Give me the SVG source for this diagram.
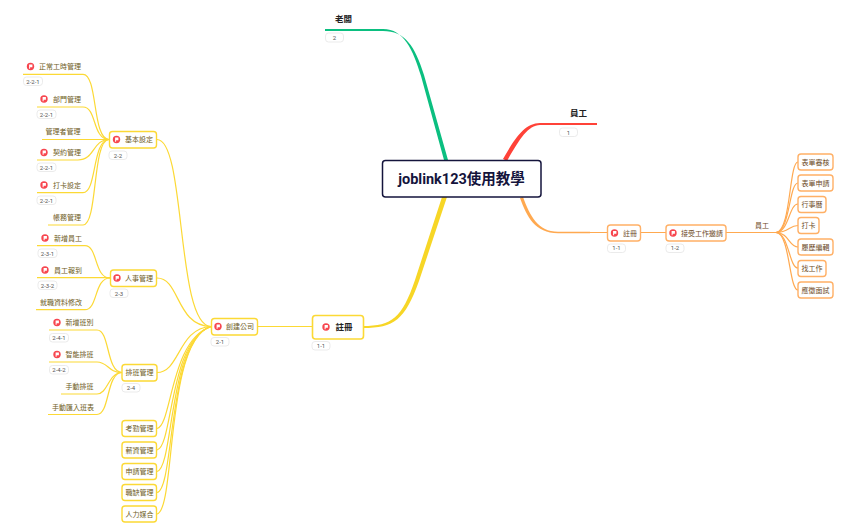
<svg xmlns="http://www.w3.org/2000/svg" width="856" height="530" viewBox="0 0 856 530">
<style>
text{font-family:Roboto,"Noto Sans CJK TC","Noto Sans CJK SC",sans-serif}
.y{fill:none;stroke:#fcd935;stroke-width:1.200}
.o{fill:none;stroke:#ffa950;stroke-width:1.200}
.by{fill:#fff;stroke:#fcd935;stroke-width:1.400}
.bo{fill:#fff;stroke:#ffb066;stroke-width:1.400}
.ty{font-size:7px;fill:#6e5c1c}
.to{font-size:7px;fill:#6d4a26}
.bd{fill:#fff;stroke:#e6e6e6;stroke-width:.8}
.bt{font-size:6px;fill:#555;text-anchor:middle}
.h{font-size:8.500px;font-weight:700;fill:#222}
</style>
<defs>
<g id="flag"><circle r="3.700" fill="#f7464f"/><path d="M-1.400-2H1.900V.7H-.4V2.300H-1.400Z" fill="#fff"/></g>
</defs>
<g id="connectors">
<path d="M325 29H383C404 29 413 50 421 76L444 160H448L424 75C415 46 405 31 383 31H325Z" fill="#0bbf80"/>
<path d="M597 123H540C525 123 515 138 503 159L507 161C519 140 528 125 540 125H597Z" fill="#ff4238"/>
<path d="M520 197C527 216 535 231.800 555 231.800H587V233.200H555C532 233.200 524 217 517 198Z" fill="#ffa950" transform="translate(3 0)"/>
<path d="M363 326C392 326 402 318 415 280L442 197H447L419 281C405 320 394 328 363 328Z" fill="#f7d626"/>
<path class="o" d="M587 232.500H607M640 232.500H666M726 232.500H776"/>
<path class="o" d="M776 232.500C791 232 789 162 798 162"/>
<path class="o" d="M776 232.500C790 232 789 183 798 183"/>
<path class="o" d="M776 232.500C789 232 789 204 798 204"/>
<path class="o" d="M776 232.500C789 232.500 789 225.500 798 225.500"/>
<path class="o" d="M776 232.500C789 233 789 247 798 247"/>
<path class="o" d="M776 232.500C789 233 789 268 798 268"/>
<path class="o" d="M776 232.500C790 233 789 290 798 290"/>
<path class="y" d="M257 326.500H312"/>
<path class="y" d="M157 139.500C186 139.500 176 326 211 326.500"/>
<path class="y" d="M157 278C180 278 176 326 211 326.500"/>
<path class="y" d="M157 372.500C180 372.500 178 328 211 326.500"/>
<path class="y" d="M157 428.500C172 426 170 340 211 326.500"/>
<path class="y" d="M157 450C173 447 169 340 211 326.500"/>
<path class="y" d="M157 471.500C174 468 168 340 211 326.500"/>
<path class="y" d="M157 492.500C175 489 167 340 211 326.500"/>
<path class="y" d="M157 514C176 510 165 340 211 326.500"/>
<path class="y" d="M23 74.300H83C98 74.300 92 139 109 139.500"/>
<path class="y" d="M37 107H83C97 107 92 139 109 139.500"/>
<path class="y" d="M42 139.500H109"/>
<path class="y" d="M37 160H78C95 160 92 140 109 139.500"/>
<path class="y" d="M37 192.700H83C97 192.700 92 140 109 139.500"/>
<path class="y" d="M48 225H83C98 225 92 140 109 139.500"/>
<path class="y" d="M37 245.700H85C98 245.700 94 278 110 278"/>
<path class="y" d="M37 277.700H110"/>
<path class="y" d="M36 309.700H85C98 309.700 94 278 110 278"/>
<path class="y" d="M49 330H97C110 330 106 372 122 372.500"/>
<path class="y" d="M49 362H97C108 362 108 372.500 122 372.500"/>
<path class="y" d="M61 394H97C108 394 108 373 122 372.500"/>
<path class="y" d="M48 414.500H97C110 414.500 106 373 122 372.500"/>
</g>
<g id="root"><rect x="382.500" y="160.500" width="158.500" height="36.500" rx="3" fill="#fff" stroke="#14143c" stroke-width="1.500"/><text x="461.500" y="183.500" font-size="14.500" font-weight="700" fill="#14143c" text-anchor="middle">joblink123使用教學</text></g>
<g id="boss"><text class="h" x="335" y="21.500">老闆</text><rect class="bd" x="325.500" y="33" width="18" height="9" rx="3"/><text class="bt" x="334.500" y="39.800">2</text></g>
<g id="employee"><text class="h" x="570" y="116">員工</text><rect class="bd" x="559.500" y="128" width="18" height="8.500" rx="3"/><text class="bt" x="568.500" y="134.500">1</text></g>
<g id="reg-e"><rect class="bo" x="607.500" y="225" width="33" height="16" rx="3"/><use href="#flag" x="614.500" y="233"/><text class="to" x="623" y="235.500">註冊</text><rect class="bd" x="607.500" y="244" width="18" height="8.500" rx="3"/><text class="bt" x="616.500" y="250.300">1-1</text></g>
<g id="accept"><rect class="bo" x="666" y="225" width="60" height="16" rx="3"/><use href="#flag" x="673" y="233"/><text class="to" x="681" y="235.500">接受工作邀請</text><rect class="bd" x="666" y="244" width="18" height="8.500" rx="3"/><text class="bt" x="675" y="250.300">1-2</text></g>
<g id="e-staff"><text class="to" x="755" y="228">員工</text></g>
<g id="e1"><rect class="bo" x="798" y="154" width="35" height="16" rx="3"/><text class="to" x="801.500" y="164.500">表單審核</text></g>
<g id="e2"><rect class="bo" x="798" y="175" width="35" height="16" rx="3"/><text class="to" x="801.500" y="185.500">表單申請</text></g>
<g id="e3"><rect class="bo" x="798" y="196.500" width="28" height="16" rx="3"/><text class="to" x="801.500" y="207">行事曆</text></g>
<g id="e4"><rect class="bo" x="798" y="217.500" width="21" height="16" rx="3"/><text class="to" x="801.500" y="228">打卡</text></g>
<g id="e5"><rect class="bo" x="798" y="239" width="35" height="16" rx="3"/><text class="to" x="801.500" y="249.500">履歷編輯</text></g>
<g id="e6"><rect class="bo" x="798" y="260.500" width="28" height="16" rx="3"/><text class="to" x="801.500" y="271">找工作</text></g>
<g id="e7"><rect class="bo" x="798" y="282" width="35" height="16" rx="3"/><text class="to" x="801.500" y="292.500">應徵面試</text></g>
<g id="reg"><rect x="312.500" y="315.500" width="51" height="23.500" rx="3" fill="#fff" stroke="#fcd935" stroke-width="1.600"/><use href="#flag" x="326" y="327"/><text class="h" x="335.500" y="330">註冊</text><rect class="bd" x="312" y="341.500" width="18" height="8.500" rx="3"/><text class="bt" x="321" y="348">1-1</text></g>
<g id="create"><rect class="by" x="211.500" y="318.500" width="46" height="16.500" rx="3"/><use href="#flag" x="218" y="326.500"/><text class="ty" x="226" y="329">創建公司</text><rect class="bd" x="211" y="337.500" width="18" height="8.500" rx="3"/><text class="bt" x="220" y="344">2-1</text></g>
<g id="basic"><rect class="by" x="109.500" y="131.500" width="47" height="16.500" rx="3"/><use href="#flag" x="116.500" y="139.500"/><text class="ty" x="125" y="142">基本設定</text><rect class="bd" x="109" y="151" width="18" height="8.500" rx="3"/><text class="bt" x="118" y="157.500">2-2</text></g>
<g id="hr"><rect class="by" x="110.500" y="270" width="46" height="16.500" rx="3"/><use href="#flag" x="117" y="278"/><text class="ty" x="125" y="280.500">人事管理</text><rect class="bd" x="110" y="289" width="18" height="8.500" rx="3"/><text class="bt" x="119" y="295.500">2-3</text></g>
<g id="sched"><rect class="by" x="122" y="364.500" width="35" height="16.500" rx="3"/><text class="ty" x="125.500" y="375">排班管理</text><rect class="bd" x="122" y="383.500" width="18" height="8.500" rx="3"/><text class="bt" x="131" y="390">2-4</text></g>
<g id="l1"><use href="#flag" x="30.500" y="66.500"/><text class="ty" x="39" y="69">正常工時管理</text><rect class="bd" x="23.500" y="77" width="19" height="8.500" rx="3"/><text class="bt" x="33" y="83.500">2-2-1</text></g>
<g id="l2"><use href="#flag" x="44" y="99"/><text class="ty" x="53" y="101.500">部門管理</text><rect class="bd" x="37" y="110" width="19" height="8.500" rx="3"/><text class="bt" x="46.500" y="116.500">2-2-1</text></g>
<g id="l3"><text class="ty" x="45.500" y="134">管理者管理</text></g>
<g id="l4"><use href="#flag" x="44" y="152.500"/><text class="ty" x="53" y="155">契約管理</text><rect class="bd" x="37" y="163" width="19" height="8.500" rx="3"/><text class="bt" x="46.500" y="169.500">2-2-1</text></g>
<g id="l5"><use href="#flag" x="44" y="185"/><text class="ty" x="53" y="187.500">打卡設定</text><rect class="bd" x="37" y="196" width="19" height="8.500" rx="3"/><text class="bt" x="46.500" y="202.500">2-2-1</text></g>
<g id="l6"><text class="ty" x="53" y="220">帳務管理</text></g>
<g id="l7"><use href="#flag" x="45" y="238"/><text class="ty" x="54" y="240.500">新增員工</text><rect class="bd" x="38" y="249" width="19" height="8.500" rx="3"/><text class="bt" x="47.500" y="255.500">2-3-1</text></g>
<g id="l8"><use href="#flag" x="45" y="270"/><text class="ty" x="54" y="272.500">員工報到</text><rect class="bd" x="38" y="281" width="19" height="8.500" rx="3"/><text class="bt" x="47.500" y="287.500">2-3-2</text></g>
<g id="l9"><text class="ty" x="40" y="304.500">就職資料修改</text></g>
<g id="l10"><use href="#flag" x="57" y="322.500"/><text class="ty" x="65.500" y="325">新增班別</text><rect class="bd" x="49.500" y="333.500" width="19" height="8.500" rx="3"/><text class="bt" x="59" y="340">2-4-1</text></g>
<g id="l11"><use href="#flag" x="57" y="354.500"/><text class="ty" x="65.500" y="357">智能排班</text><rect class="bd" x="49.500" y="365.500" width="19" height="8.500" rx="3"/><text class="bt" x="59" y="372">2-4-2</text></g>
<g id="l12"><text class="ty" x="65.500" y="389">手動排班</text></g>
<g id="l13"><text class="ty" x="52" y="409.500">手動匯入班表</text></g>
<g id="m1"><rect class="by" x="122" y="420.500" width="34.500" height="16" rx="3"/><text class="ty" x="125.500" y="431">考勤管理</text></g>
<g id="m2"><rect class="by" x="122" y="442" width="34.500" height="16" rx="3"/><text class="ty" x="125.500" y="452.500">薪資管理</text></g>
<g id="m3"><rect class="by" x="122" y="463.500" width="34.500" height="16" rx="3"/><text class="ty" x="125.500" y="474">申請管理</text></g>
<g id="m4"><rect class="by" x="122" y="484.500" width="34.500" height="16" rx="3"/><text class="ty" x="125.500" y="495">職缺管理</text></g>
<g id="m5"><rect class="by" x="122" y="506" width="34.500" height="16" rx="3"/><text class="ty" x="125.500" y="516.500">人力媒合</text></g>
</svg>
